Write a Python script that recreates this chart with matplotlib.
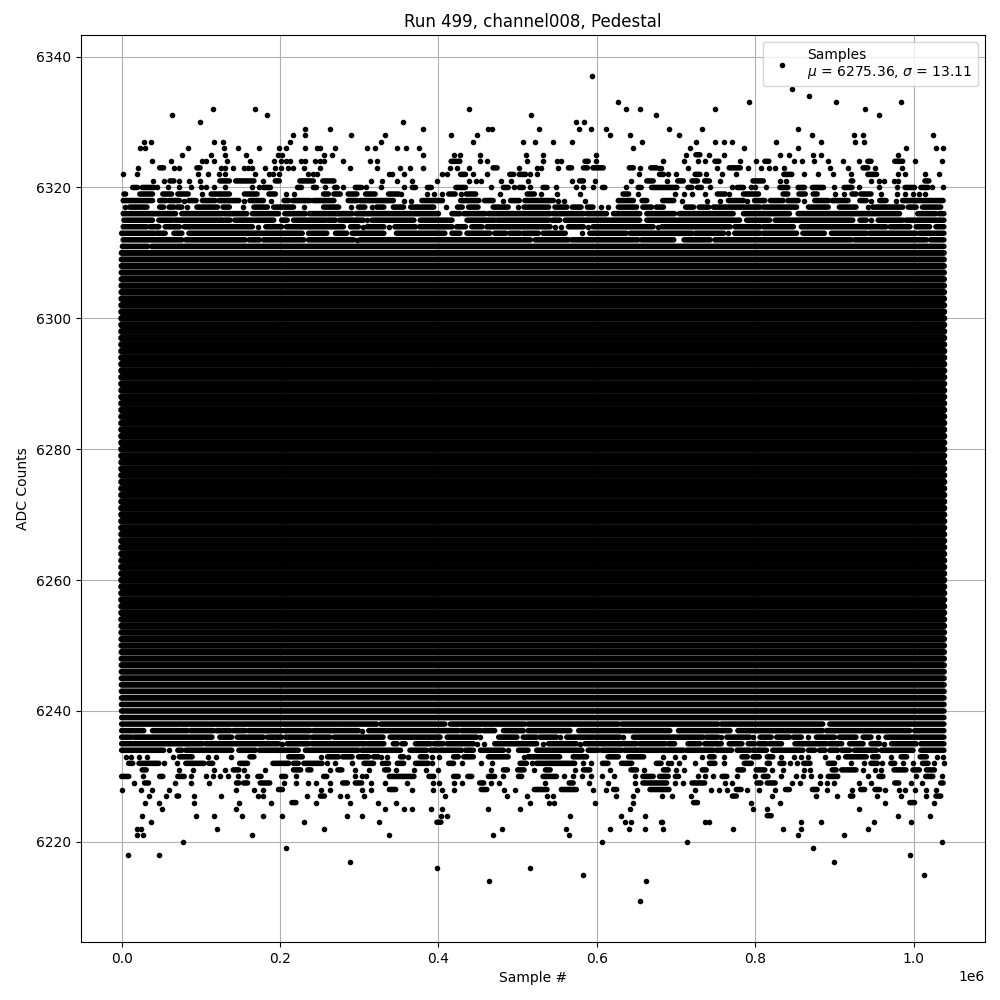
#!/usr/bin/env python
"""
Pedestal scatter for run 499, channel 8.
Values read off the plot: x in thousands of samples, a tuple is an unbroken run of samples.
"""

import numpy as np
import matplotlib
matplotlib.use('Agg')
import matplotlib.pyplot as plt

sample_first = 0
sample_last = 1038
mean_adc = 6275.36
std_adc = 13.11
# rows which are solid from the first sample to the last
solid_low = 6239
solid_high = 6310

# upper tail
r6337 = [594]
r6335 = [846]
r6334 = [868]
r6333 = [627, 792, 902, 984]
r6332 = [115, 169, 439, 637, 655, 749, 938]
r6331 = [63, 183, 517, 674, 956]
r6330 = [99, 355, 574, 584]
r6329 = [231, 263, 380, 463, 468, 527, 578, 593, 612, 691, 733, 854]
r6328 = [216, 232, 289, 332, 416, 449, 617, 642, 704, 872, 925, 936, 1024]
r6327 = [28, 37, 116, 128, 213, 328, 443, 507, 522, 544, 568, 657, 725, 749, 761, 771, 826, 883, 926, 937]
r6326 = [23, 29, 84, 129, 147, 174, 199, 208, 232, 247, 251, 269, 310, 320, 348, 359, 375, 645, 717, 786, 854,
         990, 1028, 1037]
r6325 = [76, 113, 130, 157, 198, 203, 256, 266, 381, 420, 427, 452, 511, 532, 599, 713, (725, 730), 741, 761,
         831, 843, 873, 883, 980]
r6324 = [38, 62, 101, 107, 116, 133, 162, 192, 201, 207, 212, 227, 232, 244, 250, 255, 280, 314, 322, (416, 427),
         452, 461, 512, 532, 549, 555, (585, 589), 599, 684, 710, 728, 737, (749, 754), 781, 801, (812, 817), 849,
         859, 874, 892, 911, 931, (942, 946), (976, 986), 1001, 1035]
r6323 = [21, (48, 53), 66, 73, (95, 99), 126, 131, 140, 154, 160, 165, 181, 194, 201, 210, 216, 230, 250, 288, 323,
         352, 364, 380, 414, 424, 439, (469, 474), 502, 524, 529, 551, (564, 568), (583, 588), (595, 608),
         (641, 646), 655, (668, 675), 679, 681, 715, 752, (767, 781), 791, 807, 817, 825, 836, 894, 917, (936, 942),
         951, 985]
r6322 = [2, 19, 97, 109, 123, 130, 168, 186, 191, 199, 235, 241, 247, 338, 341, 356, 405, 411, (428, 434), 444, 461,
         (490, 495), (502, 510), 516, 524, 653, (679, 684), 690, 700, (724, 730), 738, 758, 775, (836, 846), 861,
         879, 898, 921, (942, 953), 980, 989, 1014, 1032]
r6321 = [39, 53, (61, 66), 72, 85, 99, (124, 136), (144, 167), 179, (194, 199), (225, 242), (254, 268), 315, 329,
         348, 367, 398, 439, 447, 454, 479, 492, 513, 568, (578, 583), 597, 643, (663, 671), 689, (702, 709),
         (720, 727), (736, 742), 756, (797, 810), 831, 839, (921, 923), 946, 956, 962, 975, 980, (1014, 1019)]
r6320 = [(14, 20), (26, 41), 45, 58, 73, 88, 100, 107, 116, 131, 164, 174, (179, 188), (222, 227), (242, 246), 257,
         (269, 272), 280, (295, 303), 309, 327, 357, (367, 371), (386, 391), (422, 434), 466, (482, 488), 495,
         (502, 507), 515, (532, 537), 548, 573, 582, 595, (607, 610), 637, (652, 656), (669, 701), (715, 720),
         (727, 732), 743, 770, (777, 785), 795, 800, 814, (831, 841), (854, 862), (872, 886), 899, (912, 922), 931,
         956, 979, (989, 1001), (1009, 1018), 1023, 1037]
r6319 = [(3, 5), (23, 39), (52, 63), (71, 84), 102, (113, 136), (155, 171), (186, 194), 208, 217, (255, 261),
         (268, 276), (286, 297), (308, 320), (337, 350), 353, 385, 394, 405, (413, 421), 428, (435, 447), 478,
         (512, 521), 529, 550, 579, (633, 640), 652, 699, 710, 720, 737, (752, 762), 767, (785, 804), (835, 841),
         (855, 863), (873, 878), 901, 912, (922, 927), (933, 946), 959, 979, 989, 999, 1006, 1014]
r6318 = [(2, 39), (48, 56), (60, 73), 79, (85, 94), (102, 118), (123, 148), 154, (162, 179), 188, (205, 211),
         (216, 238), (242, 268), (286, 297), (301, 343), 356, 365, (379, 405), (428, 451), (458, 469), 481,
         (491, 502), (509, 545), 551, 558, 585, (627, 646), (657, 663), (683, 697), 707, 739, 756, (766, 785), 790,
         (799, 812), (819, 835), (841, 854), 861, (875, 892), (897, 917), (932, 940), 946, (957, 965), 977,
         (986, 1037)]
r6317 = [4, (10, 32), (48, 53), (60, 66), (70, 76), 82, (95, 121), (128, 136), 153, (167, 184), (192, 217), 230,
         (255, 274), 290, (299, 307), 316, (322, 331), (343, 356), (365, 394), 409, (424, 430), (438, 450),
         (469, 488), 501, (508, 539), (547, 562), (569, 580), (588, 595), 605, 614, (627, 650), (658, 669),
         (675, 684), (712, 722), (729, 741), (747, 806), (810, 852), (867, 892), (906, 927), 942, (948, 986),
         (993, 1003), (1011, 1034)]
r6316 = [(2, 68), (76, 127), (130, 158), (165, 198), (206, 232), (237, 291), (296, 400), (417, 427), (432, 459),
         (463, 541), (545, 583), (587, 612), (621, 654), (663, 698), (704, 772), (785, 843), (854, 982),
         (1005, 1028), (1032, 1038)]
r6315 = [(3, 39), (47, 64), (67, 137), (143, 165), (168, 192), (202, 209), (217, 257), (260, 270), (275, 305), 310,
         (316, 369), (377, 417), (436, 471), (474, 539), (543, 553), (560, 654), (663, 780), (789, 818), (825, 923),
         (932, 940), 946, (955, 986), (990, 1038)]
r6314 = [(2, 32), (36, 47), (55, 73), (79, 165), 172, (182, 202), (208, 280), (289, 299), 305, (310, 331), 337,
         (345, 371), (376, 417), (423, 434), (442, 455), (461, 541), 547, 555, (564, 583), 589, (595, 671), 677,
         (682, 768), (774, 806), (810, 848), (858, 965), (970, 995), (1003, 1020), (1028, 1038)]
r6313 = [(0, 41), (44, 55), (66, 76), (85, 228), (236, 259), (270, 284), (291, 331), (347, 408), (417, 427),
         (436, 465), (471, 485), (490, 503), (507, 526), (532, 560), 581, (591, 637), (642, 720), (724, 760), 766,
         (774, 806), (810, 852), (860, 887), (896, 940), (944, 1003), (1007, 1038)]
r6312 = [(2, 76), (81, 156), (161, 174), (179, 230), (236, 293), 297, (301, 348), (350, 419), (421, 490), (492, 516),
         (522, 564), (568, 652), (656, 697), (710, 722), (724, 743), (749, 921), (925, 1016), (1021, 1038)]
r6311 = [(1, 33), (38, 1038)]

# lower tail
r6238 = [(0, 169), (171, 322), (327, 408), (415, 509), (513, 566), (568, 627), (631, 753), (757, 885), (894, 1038)]
r6237 = [(0, 28), (39, 72), (74, 83), (87, 116), (120, 137), (141, 156), (160, 202), (205, 238), (242, 276),
         (278, 299), 303, (312, 425), (429, 453), (457, 471), (482, 507), (513, 566), (577, 692), (703, 768),
         (778, 885), (890, 995), (1001, 1038)]
r6236 = [(0, 13), (16, 72), (74, 83), (85, 114), (124, 139), (146, 179), (184, 202), (207, 236), (240, 263),
         (268, 330), (339, 402), (411, 448), 453, (476, 488), (490, 499), (507, 524), (528, 549), 553, (562, 629),
         633, (646, 734), (738, 753), 757, (764, 793), 797, (806, 820), (827, 843), (848, 858), 867, (877, 900),
         (906, 927), (936, 946), 955, (965, 1038)]
r6235 = [(0, 102), (106, 198), 203, (209, 236), (240, 307), (310, 331), (343, 348), (354, 358), (371, 390),
         (394, 406), (411, 444), 448, 457, (471, 524), 532, (539, 574), 579, (585, 650), (654, 686), (690, 698),
         (715, 730), (736, 757), (767, 783), (791, 799), (804, 814), (818, 833), (850, 890), (894, 909), (919, 936),
         (946, 957), 963, (972, 1003), (1009, 1038)]
r6234 = [(0, 53), 60, (71, 76), (81, 139), (148, 169), (174, 223), (232, 299), (303, 352), (364, 385), (390, 398),
         (402, 429), (434, 444), (453, 482), 488, (501, 513), (524, 581), (589, 602), (606, 631), (635, 709),
         (713, 747), (751, 770), (777, 793), (797, 814), (822, 860), (867, 875), (881, 888), (894, 904), (909, 919),
         (925, 953), (959, 999), (1009, 1038)]
r6233 = [5, 12, 22, 32, 65, (73, 89), 109, 119, 138, (162, 167), (211, 228), 252, (260, 274), (279, 291), (299, 312),
         (318, 324), 327, 335, (352, 356), 362, (377, 385), 392, 401, (419, 425), (432, 444), (463, 488), 508,
         (513, 553), (570, 587), (614, 627), (640, 659), 684, 698, 710, 733, (742, 748), 761, (783, 790), (797, 805),
         (815, 822), 833, 849, 858, 867, 888, 904, (914, 940), (948, 955), 971, (984, 991), (1008, 1016), 1029, 1037]
r6232 = [(9, 14), (22, 47), 53, 70, (81, 104), (110, 115), (149, 159), (191, 211), (217, 223), (230, 253), 259, 269,
         291, (306, 318), 329, (333, 337), (348, 356), (371, 387), 392, (413, 419), 430, 454, 468, (503, 511), 518,
         (524, 572), 583, 593, (607, 614), (631, 644), (675, 681), 690, 694, 704, 724, (742, 749), 761, (786, 795),
         (815, 818), (831, 836), 844, 852, (861, 869), (892, 900), 921, 937, (946, 954), 960, (971, 976), 986, 999,
         (1011, 1018), 1025, 1038]
r6231 = [(26, 31), 72, 90, 116, 131, (141, 148), 155, 181, (217, 226), (235, 239), 263, (273, 278), 295, 312,
         (332, 337), 347, 369, 384, 399, 466, (482, 487), (500, 508), 521, (535, 541), 572, (583, 591), 616,
         (643, 650), 660, (684, 690), 700, 710, (733, 738), (778, 785), (801, 812), 821, 835, 862, 869, (897, 902),
         (909, 927), 936, 951, 958, (975, 990), (999, 1007), (1016, 1026)]
r6230 = [(0, 9), 27, (48, 52), (71, 79), 87, 106, 115, 124, 134, 147, 158, (172, 176), (202, 207), 220, (255, 259),
         295, 303, 308, (338, 369), (388, 394), (419, 425), (437, 442), (463, 471), 482, (501, 505), (532, 549), 559,
         570, 581, 593, 607, 621, 648, (658, 671), (679, 690), (699, 703), 727, 736, 747, (758, 764), 777, 800,
         (810, 816), 833, 851, 860, 870, 882, (892, 904), 942, (956, 961), 1003, (1015, 1024), 1035]
r6229 = [16, (29, 34), 67, 87, 110, (145, 148), (154, 159), (175, 187), 205, 220, 235, 246, 263, (279, 285),
         (295, 303), 315, 332, 360, 393, 401, 420, 430, (452, 457), 466, 476, 535, (565, 570), 590, 614, 648,
         (658, 688), 699, 709, (720, 736), 762, 771, (802, 807), (815, 825), 846, 856, 882, 890, 899, 931, 946,
         (976, 981), 996, 1010, (1034, 1037)]
r6228 = [0, 24, 38, 60, 145, 167, 179, (198, 203), 252, 263, 304, 315, (338, 346), 366, 393, 405, 419, (454, 461),
         483, 497, (521, 537), (555, 574), 595, 612, (621, 625), 650, (667, 691), 724, 744, 754, 764, (776, 782), 790,
         804, 825, (838, 843), (872, 878), 890, 922, (933, 938), (951, 957), 964, 981, 989, 1001, 1016, 1028]
r6227 = [34, 56, (70, 72), 91, 125, 172, 179, 234, (251, 256), 276, 285, 306, 408, 487, 512, 537, 545, 624, 645, 682,
         695, 719, (771, 776), 821, 877, 903, (920, 923), 953, 984, 1015, (1028, 1034)]
r6226 = [29, 47, 91, 148, 189, (215, 220), 246, 288, 324, 347, 515, 539, 546, 598, 645, (722, 727), 794, 831, 964,
         (995, 1001), 1025]
r6225 = [51, 145, 333, 357, 367, 390, 404, 463, 503, 642, 797, 815, 931]
r6224 = [26, 94, 116, 152, 178, 203, 284, 304, 403, 411, 566, 631, 661, (815, 820), 980, 1020]
r6223 = [37, 230, 325, (398, 403), 636, 643, 681, 682, 736, 742, 858, 883, 950, 996]
r6222 = [19, 24, 121, 255, 480, 561, 616, 641, 661, 684, 772, 835, 858, 942]
r6221 = [19, 27, 164, 338, 469, 565, 854, 912]
r6220 = [77, 607, 714, 1035]
r6219 = [208, 873]
r6218 = [8, 47, 995]
r6217 = [288, 899]
r6216 = [398, 516]
r6215 = [583, 1013]
r6214 = [464, 662]
r6211 = [655]

tail_levels = [6337, 6335, 6334, 6333, 6332, 6331, 6330, 6329, 6328, 6327, 6326, 6325, 6324, 6323, 6322, 6321, 6320,
               6319, 6318, 6317, 6316, 6315, 6314, 6313, 6312, 6311, 6238, 6237, 6236, 6235, 6234, 6233, 6232, 6231,
               6230, 6229, 6228, 6227, 6226, 6225, 6224, 6223, 6222, 6221, 6220, 6219, 6218, 6217, 6216, 6215, 6214,
               6211]
tail_rows = [r6337, r6335, r6334, r6333, r6332, r6331, r6330, r6329, r6328, r6327, r6326, r6325, r6324, r6323, r6322,
             r6321, r6320, r6319, r6318, r6317, r6316, r6315, r6314, r6313, r6312, r6311, r6238, r6237, r6236, r6235,
             r6234, r6233, r6232, r6231, r6230, r6229, r6228, r6227, r6226, r6225, r6224, r6223, r6222, r6221, r6220,
             r6219, r6218, r6217, r6216, r6215, r6214, r6211]


def draw_run(ax, start, end, level, width=4.0):
    # an unbroken run of samples looks like one thick round-ended bar
    ax.plot([start * 1e3, end * 1e3], [level, level], color='k', linewidth=width,
            solid_capstyle='round', zorder=2.1, snap=False)


fig, ax = plt.subplots(figsize=(10, 10))

point_x = []
point_y = []
for level, row in zip(tail_levels, tail_rows):
    for item in row:
        if isinstance(item, tuple):
            draw_run(ax, item[0], item[1], level)
        else:
            point_x.append(item * 1e3)
            point_y.append(level)

# the white lines between rows close up towards the mean
for level in range(solid_low, solid_high + 1):
    width = np.interp(level, [solid_low, 6256, 6299, solid_high], [4.05, 5.0, 5.0, 4.35])
    draw_run(ax, sample_first, sample_last, level, width)

ax.plot(point_x, point_y, 'k.', zorder=2.1,
        label=f'Samples\n$\\mu$ = {mean_adc:.2f}, $\\sigma$ = {std_adc:.2f}')

ax.set_title('Run 499, channel008, Pedestal')
ax.set_xlabel('Sample #')
ax.set_ylabel('ADC Counts')
ax.grid(True)
ax.legend(loc='upper right')

fig.subplots_adjust(left=0.0805, right=0.985, top=0.965, bottom=0.058)
plt.savefig('out.png', dpi=100)
plt.close()
